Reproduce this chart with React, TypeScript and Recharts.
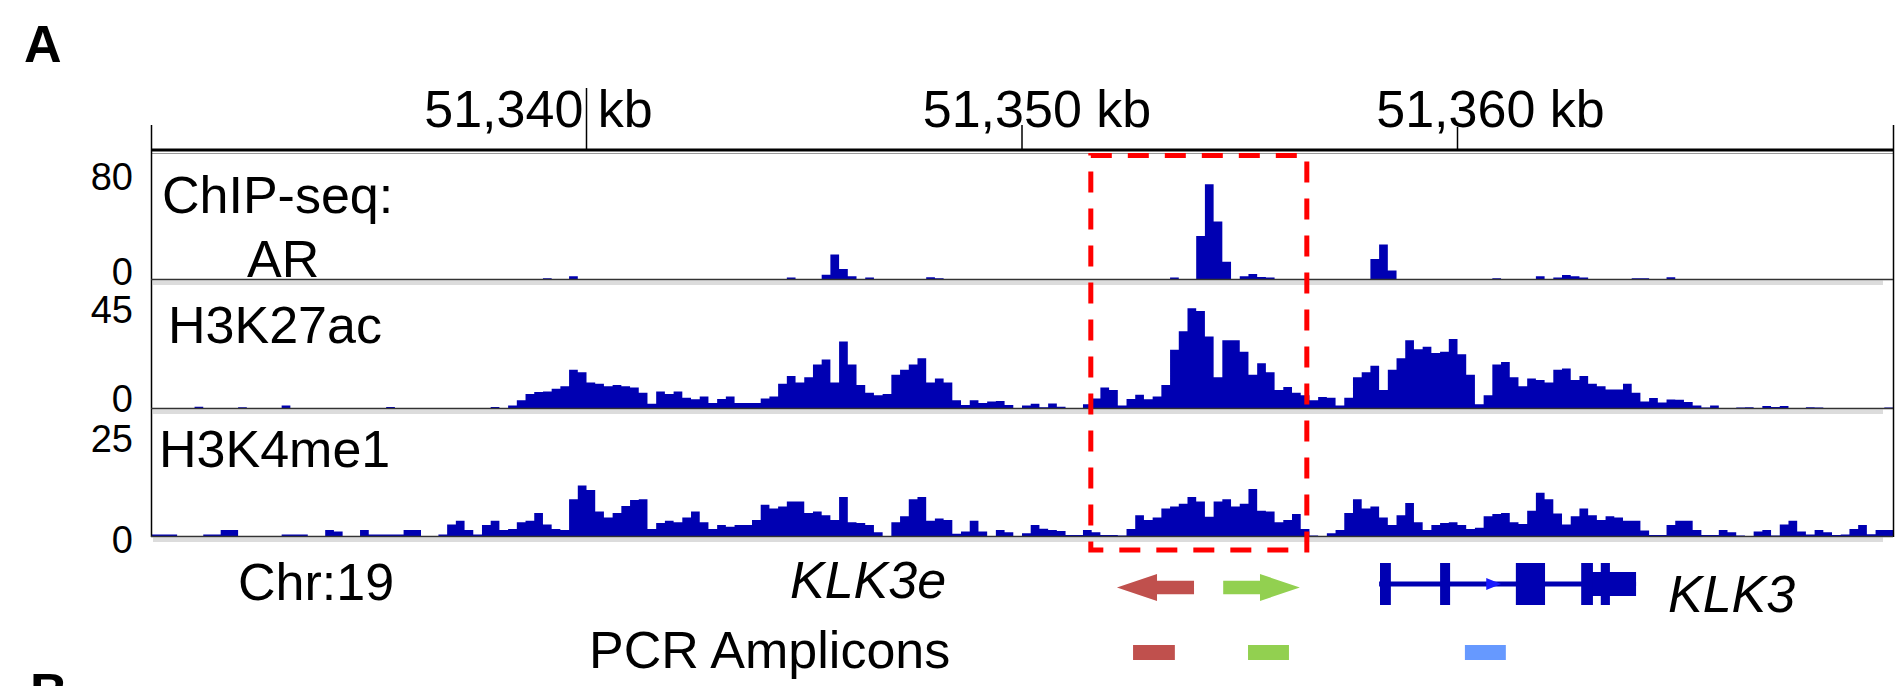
import React from 'react';
import { AreaChart, Area, XAxis, YAxis, ReferenceArea } from 'recharts';

// genomic window (kb) and signal bin size
const START_KB = 51330;
const END_KB = 51370;
const BIN_KB = 0.2;

const RULER_TICKS = [51340, 51350, 51360];
const RULER_LABELS = ['51,340 kb', '51,350 kb', '51,360 kb'];

// ChIP-seq coverage, one value per 0.2 kb bin
const AR_SIGNAL = [
  0, 0, 0, 0, 0, 0, 0, 0, 0, 0,
  0, 0, 0, 0, 0, 0, 0, 0, 0, 0,
  0, 0, 0, 0, 0, 0, 0, 0, 0, 0,
  0, 0, 0, 0, 0, 0, 0, 0, 0, 0,
  0, 0, 0, 0, 0, 0.6, 0, 0, 2, 0,
  0, 0, 0, 0, 0, 0, 0, 0, 0, 0,
  0, 0, 0, 0, 0, 0, 0, 0, 0, 0,
  0, 0, 0, 1, 0, 0, 0, 3, 17, 7,
  2, 0, 1, 0, 0, 0, 0, 0, 0, 1.2,
  0.6, 0, 0, 0, 0, 0, 0, 0, 0, 0,
  0, 0, 0, 0, 0, 0, 0, 0, 0, 0,
  0, 0, 0, 0, 0, 0, 0, 1, 0, 0,
  30, 66, 40, 12, 0, 2, 3.5, 1.4, 1, 0,
  0, 0, 0, 0, 0, 0, 0, 0, 0, 0,
  14, 24, 6, 0, 0, 0, 0, 0, 0, 0,
  0, 0, 0, 0, 0.5, 0, 0, 0, 0, 2,
  0, 1, 2.8, 2, 1, 0, 0, 0, 0, 0,
  0.5, 0.5, 0, 0, 1.3, 0, 0, 0, 0, 0,
  0, 0, 0, 0, 0, 0, 0, 0, 0, 0,
  0, 0, 0, 0, 0, 0, 0, 0, 0, 0,
];

const H3K27AC_SIGNAL = [
  0, 0, 0, 0, 0, 0.5, 0, 0, 0, 0,
  0.3, 0, 0, 0, 0, 1, 0, 0, 0, 0,
  0, 0, 0, 0, 0, 0, 0, 0.4, 0, 0,
  0, 0, 0, 0, 0, 0, 0, 0, 0, 0.4,
  0, 1, 3, 5.5, 6.3, 6.5, 7.5, 8.5, 15, 14,
  10, 9.5, 8.5, 9, 8.5, 8, 6, 1.7, 6.5, 5.5,
  6.5, 4, 3.4, 4.5, 2, 3.5, 4.5, 2, 2, 2,
  3.7, 4.5, 9.5, 12.5, 10, 12, 17, 19, 10, 26,
  17, 9, 6, 5, 5.5, 13, 15, 17, 19.5, 10,
  11.5, 10, 3, 1.2, 3, 2, 2.5, 2.7, 1.2, 0,
  1, 1.7, 0.3, 1.8, 0.5, 0, 0, 1.5, 3.7, 8,
  7, 1, 3.5, 5.2, 3.4, 4.5, 9, 22.8, 30, 39,
  38, 28, 12, 26.5, 26.5, 22, 13, 17.5, 14, 7,
  8.2, 6, 5, 3, 4.3, 4, 1, 4, 12, 14,
  16.5, 7, 15, 19.5, 26.5, 23, 24, 21.5, 22, 27,
  21, 13, 1.5, 5, 17, 18, 12, 8.5, 11.5, 11,
  10, 15, 15.5, 11, 12.5, 9.5, 8.5, 7.2, 7.2, 9.5,
  6, 2.5, 3.9, 2.2, 3.3, 3.2, 2.3, 1, 0.2, 1,
  0, 0, 0.2, 0.3, 0, 0.8, 0.4, 0.8, 0, 0,
  0.3, 0.2, 0, 0, 0, 0, 0, 0, 0, 0.2,
];

const H3K4ME1_SIGNAL = [
  0.3, 0.3, 0.3, 0, 0, 0, 0.3, 0.3, 1.3, 1.3,
  0, 0, 0, 0, 0, 0.3, 0.3, 0.3, 0, 0,
  1.3, 1, 0, 0, 1.3, 0.3, 0.3, 0.3, 0.3, 1.3,
  1.3, 0, 0, 0.3, 2.5, 3.3, 1.3, 0.3, 2.4, 3.3,
  1.3, 1.5, 3, 3.3, 5, 2.5, 1.5, 1.3, 8, 11,
  10, 5.3, 4, 5, 6.5, 7.8, 8, 1.5, 2.8, 3.3,
  3, 4, 5.3, 3, 1.5, 2.4, 2, 2.4, 2.4, 3.5,
  6.8, 6, 6.4, 7.5, 7.5, 5, 5.3, 4.5, 3.5, 8.5,
  3, 2.8, 2.4, 0.8, 0, 3, 4.3, 8, 8.5, 3.3,
  3.8, 3.5, 0.5, 1, 3.3, 1, 0, 1.3, 0.8, 0,
  0.6, 2.4, 1.6, 1.3, 1.1, 0.2, 0.2, 1.3, 0.8, 0.2,
  0.2, 0.1, 1.5, 4.5, 3.5, 4, 6, 6.4, 7, 8.5,
  7.5, 4.2, 7.5, 8, 6.4, 7, 10.2, 5.5, 5.3, 3,
  3.5, 4.8, 1.5, 0.1, 0, 0.6, 1.3, 5, 8, 6,
  6.4, 4, 2.4, 4.5, 7.2, 3, 1.3, 2.4, 2.8, 3,
  2.4, 1.5, 1.8, 4.3, 4.8, 5, 3, 2.6, 5.5, 9.4,
  8, 4.9, 2.5, 4.3, 6, 4.5, 3.5, 4.3, 4, 3.3,
  3.3, 1.2, 0.2, 0.2, 2.4, 3.3, 3.3, 1.3, 0.2, 0.2,
  1.3, 0.8, 0.1, 0, 1, 1.3, 0.1, 2.5, 3.3, 1,
  0.3, 1.3, 0.8, 0.2, 0.3, 1.5, 2.4, 0.4, 1.3, 1.3,
];

const TRACK_MAX = [80, 45, 25];

// annotations, in kb
const ENHANCER = [51351.58, 51356.54];
const PRIMERS = [
  { from: 51352.18, to: 51353.95, dir: -1, color: '#c0504d' },
  { from: 51354.62, to: 51356.38, dir: 1, color: '#92d050' },
];
const AMPLICONS = [
  { from: 51352.55, to: 51353.51, color: '#c0504d' },
  { from: 51355.19, to: 51356.13, color: '#92d050' },
  { from: 51360.17, to: 51361.11, color: '#6699ff' },
];
const KLK3_SPAN = [51358.2, 51364.1];
const KLK3_EXONS = [
  [51358.22, 51358.47],
  [51359.6, 51359.83],
  [51361.34, 51362.01],
  [51362.84, 51363.11],
  [51363.29, 51363.5],
];
const KLK3_UTR = [51363.02, 51364.1];
const KLK3_STRAND = [51360.66, 51361.0];

const W = 1898;
const H = 686;
const PLOT_LEFT = 151;
const PLOT_RIGHT = 5;
const RULER_Y = 150;
const BASELINES = [279, 408, 536];
const TRACK_PX = 115;
const BLUE = '#0000b2';
const FONT = "'Liberation Sans', Arial, Helvetica, sans-serif";

// label offsets (px) and tick heights for the ruler
const RULER_LABEL_DX = [-48, 15, 33];
const RULER_TICK_LEN = [62, 25, 23];

const toRows = (values: number[]) => {
  const rows = values.map((v, i) => ({ kb: START_KB + i * BIN_KB, v }));
  rows.push({ kb: END_KB, v: values[values.length - 1] });
  return rows;
};

const renderRulerTick = (props: any) => {
  const { x, payload } = props;
  const i = RULER_TICKS.indexOf(payload.value);
  return (
    <g>
      <line x1={x} x2={x} y1={RULER_Y} y2={RULER_Y - RULER_TICK_LEN[i]} stroke="#000" strokeWidth={1.5} />
      <text x={x + RULER_LABEL_DX[i]} y={127} textAnchor="middle" fontSize={52} fontFamily={FONT} fill="#000">
        {RULER_LABELS[i]}
      </text>
    </g>
  );
};

const Track = ({ values, max, base, withRuler }: { values: number[]; max: number; base: number; withRuler?: boolean }) => {
  const plotTop = withRuler ? RULER_Y : base - TRACK_PX;
  const top = withRuler ? 0 : plotTop;
  const yTop = (max * (base - plotTop)) / TRACK_PX;
  return (
    <div style={{ position: 'absolute', left: 0, top }}>
      <AreaChart
        width={W}
        height={base - top}
        data={toRows(values)}
        margin={{ top: withRuler ? RULER_Y - 70 : 0, right: PLOT_RIGHT, bottom: 0, left: PLOT_LEFT }}
      >
        <XAxis
          dataKey="kb"
          type="number"
          domain={[START_KB, END_KB]}
          allowDataOverflow
          hide={!withRuler}
          orientation="top"
          height={70}
          ticks={RULER_TICKS}
          interval={0}
          tick={renderRulerTick}
          tickLine={false}
          axisLine={{ stroke: '#000', strokeWidth: 3 }}
        />
        <YAxis hide type="number" domain={[0, yTop]} allowDataOverflow />
        <Area
          type="stepAfter"
          dataKey="v"
          stroke="none"
          fill={BLUE}
          fillOpacity={1}
          dot={false}
          activeDot={false}
          isAnimationActive={false}
        />
      </AreaChart>
    </div>
  );
};

const arrowShape = (dir: number, color: string) => (props: any) => {
  const { x, y, width, height } = props;
  const head = width * 0.52;
  const cy = y + height / 2;
  const sh = height * 0.25;
  let pts;
  if (dir < 0) {
    pts = [
      [x, cy], [x + head, y], [x + head, cy - sh], [x + width, cy - sh],
      [x + width, cy + sh], [x + head, cy + sh], [x + head, y + height],
    ];
  } else {
    pts = [
      [x + width, cy], [x + width - head, y], [x + width - head, cy - sh], [x, cy - sh],
      [x, cy + sh], [x + width - head, cy + sh], [x + width - head, y + height],
    ];
  }
  return <polygon points={pts.map((p) => p.join(',')).join(' ')} fill={color} />;
};

const strandShape = (props: any) => {
  const { x, y, width, height } = props;
  return <polygon points={`${x},${y} ${x + width},${y + height / 2} ${x},${y + height}`} fill="#1a1aff" />;
};

const Annotations = () => (
  <div style={{ position: 'absolute', left: 0, top: 0, pointerEvents: 'none' }}>
    <AreaChart width={W} height={H} data={toRows(AR_SIGNAL)} margin={{ top: 0, right: PLOT_RIGHT, bottom: 0, left: PLOT_LEFT }}>
      <XAxis dataKey="kb" type="number" domain={[START_KB, END_KB]} allowDataOverflow hide />
      <YAxis type="number" domain={[0, H]} reversed hide allowDataOverflow />
      {PRIMERS.map((p, i) => (
        <ReferenceArea key={'p' + i} x1={p.from} x2={p.to} y1={574} y2={601} shape={arrowShape(p.dir, p.color)} ifOverflow="visible" />
      ))}
      {AMPLICONS.map((a, i) => (
        <ReferenceArea key={'a' + i} x1={a.from} x2={a.to} y1={645} y2={660} fill={a.color} fillOpacity={1} stroke="none" ifOverflow="visible" />
      ))}
      <ReferenceArea x1={KLK3_SPAN[0]} x2={KLK3_SPAN[1]} y1={581.5} y2={586.5} fill={BLUE} fillOpacity={1} stroke="none" ifOverflow="visible" />
      <ReferenceArea x1={KLK3_UTR[0]} x2={KLK3_UTR[1]} y1={572} y2={596} fill={BLUE} fillOpacity={1} stroke="none" ifOverflow="visible" />
      {KLK3_EXONS.map((e, i) => (
        <ReferenceArea key={'e' + i} x1={e[0]} x2={e[1]} y1={563} y2={605} fill={BLUE} fillOpacity={1} stroke="none" ifOverflow="visible" />
      ))}
      <ReferenceArea x1={KLK3_STRAND[0]} x2={KLK3_STRAND[1]} y1={578} y2={590} shape={strandShape} ifOverflow="visible" />
      <ReferenceArea
        x1={ENHANCER[0]}
        x2={ENHANCER[1]}
        y1={155.5}
        y2={550}
        fill="none"
        stroke="#ff0000"
        strokeWidth={5}
        strokeDasharray="21 16"
        ifOverflow="visible"
      />
    </AreaChart>
  </div>
);

const Frame = () => (
  <svg width={W} height={H} style={{ position: 'absolute', left: 0, top: 0, pointerEvents: 'none' }} fontFamily={FONT}>
    <text x={24} y={62} fontSize={52} fontWeight="bold">A</text>
    <line x1={151} x2={1893} y1={153.5} y2={153.5} stroke="#999" strokeWidth={1.2} />
    <line x1={151.5} x2={151.5} y1={125} y2={537} stroke="#000" strokeWidth={1.5} />
    <line x1={1893.5} x2={1893.5} y1={125} y2={537} stroke="#000" strokeWidth={1.5} />
    {BASELINES.map((b, i) => (
      <g key={i}>
        <rect x={153} y={b + 1.5} width={1730} height={4.5} fill="#dcdcdc" />
        <line x1={151} x2={1893} y1={b + 0.5} y2={b + 0.5} stroke="#333" strokeWidth={1.5} />
      </g>
    ))}
    <text x={162} y={213} fontSize={52}>ChIP-seq:</text>
    <text x={247} y={277} fontSize={52}>AR</text>
    <text x={168} y={343} fontSize={52}>H3K27ac</text>
    <text x={159} y={467} fontSize={52}>H3K4me1</text>

    <g fontSize={38} textAnchor="end">
      <text x={133} y={190}>{TRACK_MAX[0]}</text>
      <text x={133} y={285}>0</text>
      <text x={133} y={323}>{TRACK_MAX[1]}</text>
      <text x={133} y={412}>0</text>
      <text x={133} y={452}>{TRACK_MAX[2]}</text>
      <text x={133} y={553}>0</text>
    </g>

    <text x={238} y={600} fontSize={52}>Chr:19</text>
    <text x={790} y={598} fontSize={52} fontStyle="italic">KLK3e</text>
    <text x={1668} y={612} fontSize={52} fontStyle="italic">KLK3</text>
    <text x={589} y={668} fontSize={52}>PCR Amplicons</text>
    <text x={30} y={710} fontSize={52} fontWeight="bold">B</text>
  </svg>
);

export default function App() {
  return (
    <div style={{ position: 'absolute', left: 0, top: 0, width: W, height: H, overflow: 'hidden', background: '#fff' }}>
      <Track values={AR_SIGNAL} max={TRACK_MAX[0]} base={BASELINES[0]} withRuler />
      <Track values={H3K27AC_SIGNAL} max={TRACK_MAX[1]} base={BASELINES[1]} />
      <Track values={H3K4ME1_SIGNAL} max={TRACK_MAX[2]} base={BASELINES[2]} />
      <Frame />
      <Annotations />
    </div>
  );
}
